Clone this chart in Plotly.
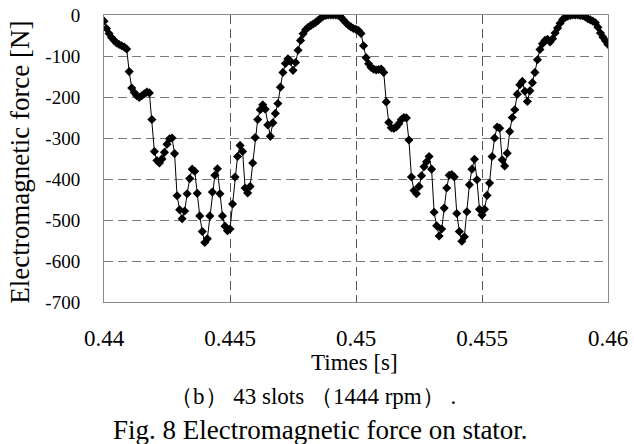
import plotly.graph_objects as go

t_start = 0.44
t_step = 0.0001
force = [
    -15, -33, -45, -55, -62, -68, -72, -75, -78, -83,
    -138, -178, -189, -197, -201, -197, -192, -188, -190, -255,
    -333, -355, -361, -351, -335, -315, -302, -300, -338, -441,
    -475, -497, -478, -436, -399, -376, -381, -435, -490, -528,
    -555, -546, -490, -432, -391, -375, -436, -490, -515, -526,
    -522, -461, -395, -345, -318, -333, -422, -434, -418, -361,
    -299, -255, -231, -219, -230, -268, -296, -263, -240, -216,
    -176, -140, -118, -107, -113, -135, -116, -86, -62, -46,
    -36, -30, -26, -22, -18, -13, -8, -3, -1, 0,
    0, 0, 0, -1, -5, -12, -19, -25, -29, -33,
    -35, -38, -45, -75, -104, -119, -128, -132, -134, -133,
    -132, -140, -212, -262, -275, -277, -273, -265, -255, -250,
    -251, -305, -395, -428, -436, -418, -392, -370, -358, -345,
    -376, -481, -514, -539, -522, -471, -422, -391, -389, -395,
    -484, -528, -552, -541, -480, -414, -376, -352, -402, -474,
    -488, -474, -440, -410, -345, -300, -273, -276, -353, -368,
    -337, -284, -250, -231, -193, -170, -162, -186, -211, -185,
    -165, -140, -109, -84, -70, -62, -59, -66, -58, -44,
    -32, -20, -11, -6, -3, -1, 0, 0, 0, -1,
    -2, -5, -9, -12, -15, -19, -30, -44, -54, -63,
    -72,
]
times = [round(t_start + i * t_step, 4) for i in range(len(force))]

x_ticks = [0.44, 0.445, 0.45, 0.455, 0.46]
x_tick_labels = ["0.44", "0.445", "0.45", "0.455", "0.46"]
y_ticks = [0, -100, -200, -300, -400, -500, -600, -700]
y_tick_labels = ["0", "-100", "-200", "-300", "-400", "-500", "-600", "-700"]

x_title = "Times [s]"
y_title = "Electromagnetic force [N]"
caption1 = "（b） 43 slots （1444 rpm） ."
caption2 = "Fig. 8 Electromagnetic force on stator."

FONT = "Liberation Serif, Times New Roman, serif"

fig = go.Figure()
fig.add_trace(go.Scatter(
    x=times, y=force, mode="lines+markers",
    line=dict(color="black", width=1),
    marker=dict(symbol="diamond", size=7, color="black"),
    showlegend=False,
))

fig.update_layout(
    width=634, height=444,
    margin=dict(l=104, r=26, t=15, b=142, autoexpand=False),
    paper_bgcolor="white", plot_bgcolor="white",
    font=dict(family=FONT, size=18, color="black"),
)
fig.update_xaxes(
    range=[0.44, 0.46], tickvals=x_ticks, ticktext=x_tick_labels,
    showgrid=True, gridcolor="#555555", gridwidth=1, griddash="9px,5px",
    showline=True, linecolor="#8c8c8c", linewidth=1, mirror=True,
    zeroline=False, ticks="", ticklabelstandoff=15, automargin=False,
    tickfont=dict(family=FONT, size=23),
)
fig.update_yaxes(
    range=[-700, 0], tickvals=y_ticks, ticktext=y_tick_labels,
    showgrid=True, gridcolor="#7a7a7a", gridwidth=1, griddash="9px,5px",
    showline=True, linecolor="#8c8c8c", linewidth=1, mirror=True,
    zeroline=False, ticks="", ticklabelstandoff=19, automargin=False,
    tickfont=dict(family=FONT, size=19),
)

fig.add_annotation(text=x_title, xref="paper", yref="paper",
                   x=0.498, y=-0.212, yanchor="middle", xanchor="center",
                   showarrow=False, font=dict(family=FONT, size=23))
fig.add_annotation(text=y_title, xref="paper", yref="paper",
                   x=-0.167, y=0.488, xanchor="center", yanchor="middle", textangle=-90,
                   showarrow=False, font=dict(family=FONT, size=27))
fig.add_annotation(text=caption1, xref="paper", yref="paper",
                   x=0.415, y=-0.331, xanchor="center", yanchor="middle",
                   showarrow=False, font=dict(family=FONT, size=23))
fig.add_annotation(text=caption2, xref="paper", yref="paper",
                   x=0.43, y=-0.446, xanchor="center", yanchor="middle",
                   showarrow=False, font=dict(family=FONT, size=27))

fig.write_html(
    "out.html",
    config={"displayModeBar": False},
    post_script="document.body.style.margin='0';document.body.style.overflow='hidden';",
)
